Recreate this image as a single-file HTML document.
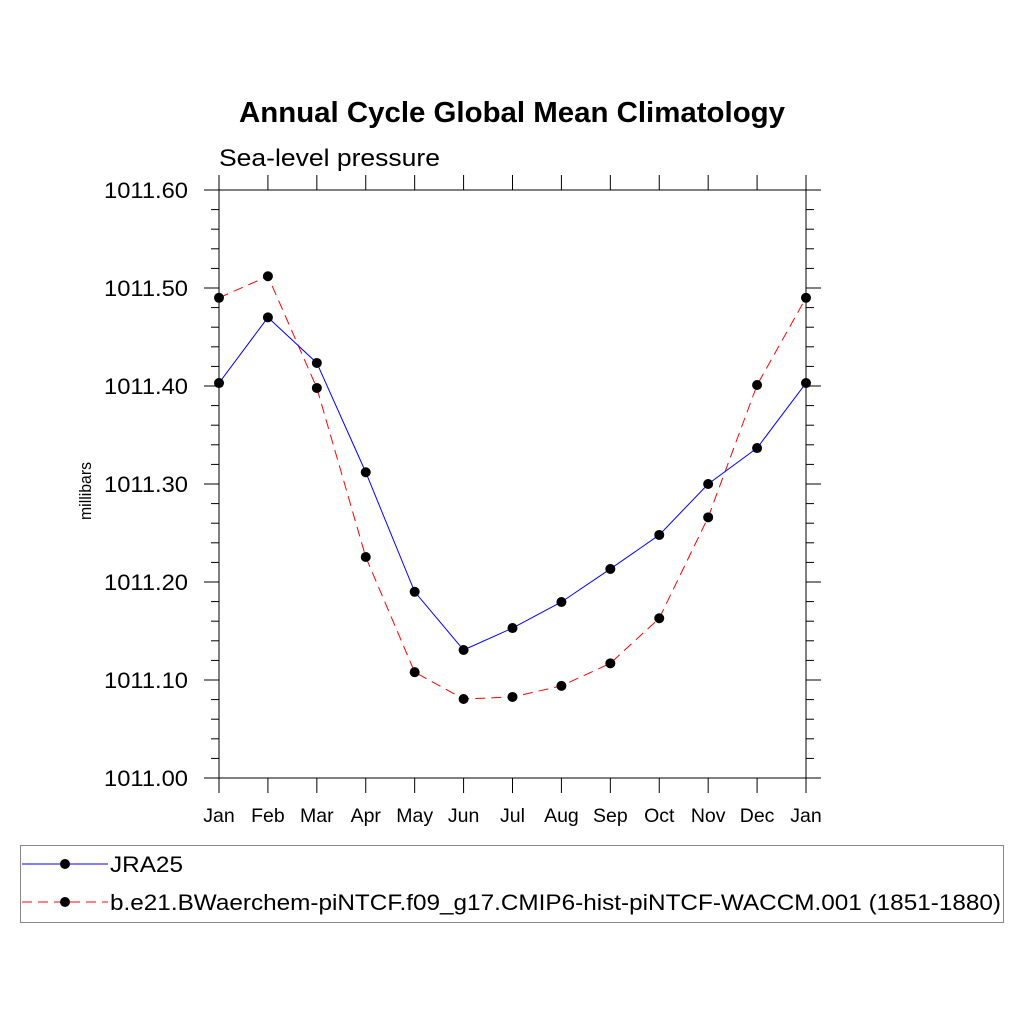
<!DOCTYPE html>
<html><head><meta charset="utf-8"><style>
body{margin:0;background:#fff;}
svg{display:block;font-family:"Liberation Sans",sans-serif;}
</style></head><body>
<svg id="chart" width="1024" height="1024" xmlns="http://www.w3.org/2000/svg">
<text x="239" y="122" font-size="29" font-weight="bold" textLength="546" lengthAdjust="spacingAndGlyphs">Annual Cycle Global Mean Climatology</text>
<text x="219" y="166" font-size="24" textLength="221" lengthAdjust="spacingAndGlyphs">Sea-level pressure</text>
<text transform="translate(91,491) rotate(-90)" text-anchor="middle" font-size="17" textLength="58" lengthAdjust="spacingAndGlyphs">millibars</text>
<g id="axes"></g>
<g id="series"></g>
<g>
<rect x="20.5" y="845.5" width="983" height="77" fill="none" stroke="#888" stroke-width="1"/>
<line x1="22" y1="864" x2="108" y2="864" stroke="#0000ff" stroke-width="1"/>
<circle cx="65" cy="864" r="5" fill="#000"/>
<text x="110" y="872" font-size="22" textLength="73" lengthAdjust="spacingAndGlyphs">JRA25</text>
<line x1="22" y1="902" x2="108" y2="902" stroke="#ff0000" stroke-width="1" stroke-dasharray="10,6"/>
<circle cx="65" cy="902" r="5" fill="#000"/>
<text x="110" y="910" font-size="22" textLength="891" lengthAdjust="spacingAndGlyphs">b.e21.BWaerchem-piNTCF.f09_g17.CMIP6-hist-piNTCF-WACCM.001 (1851-1880)</text>
</g>
</svg>
<script>
const months = ["Jan","Feb","Mar","Apr","May","Jun","Jul","Aug","Sep","Oct","Nov","Dec","Jan"];
const jra25 = [1011.403,1011.470,1011.4235,1011.312,1011.190,1011.1306,1011.153,1011.1796,1011.2133,1011.248,1011.300,1011.3367,1011.403];
const model = [1011.490,1011.512,1011.398,1011.2255,1011.108,1011.0806,1011.0827,1011.094,1011.117,1011.163,1011.266,1011.401,1011.490];
const yTicks = [1011.00,1011.10,1011.20,1011.30,1011.40,1011.50,1011.60];
const yTickLabels = ["1011.00","1011.10","1011.20","1011.30","1011.40","1011.50","1011.60"];

const X0=219,X1=806,Y0=778,Y1=190,YMIN=1011.0,YMAX=1011.6;
const xs=i=>X0+(X1-X0)*i/(months.length-1);
const ys=v=>Y0-(v-YMIN)/(YMAX-YMIN)*(Y0-Y1);
const NS="http://www.w3.org/2000/svg";
function mk(tag,attrs,parent){const e=document.createElementNS(NS,tag);for(const k in attrs)e.setAttribute(k,attrs[k]);parent.appendChild(e);return e;}
const axes=document.getElementById('axes');
const frame=mk('rect',{x:X0,y:Y1,width:X1-X0,height:Y0-Y1,fill:'none',stroke:'#000','stroke-width':1},axes);


yTicks.forEach((v,i)=>{
  const y=ys(v);
  mk('line',{x1:X0-15,y1:y,x2:X0,y2:y,stroke:'#000'},axes);
  mk('line',{x1:X1,y1:y,x2:X1+15,y2:y,stroke:'#000'},axes);
  const t=mk('text',{x:104,y:y+8,'font-size':22,textLength:84,lengthAdjust:'spacingAndGlyphs'},axes);
  t.textContent=yTickLabels[i];
  
  
  if(i<yTicks.length-1){
    for(let m=1;m<5;m++){
      const ym=ys(v+(yTicks[i+1]-v)*m/5);
      mk('line',{x1:X0-8,y1:ym,x2:X0,y2:ym,stroke:'#000'},axes);
      mk('line',{x1:X1,y1:ym,x2:X1+8,y2:ym,stroke:'#000'},axes);
    }
  }
});
months.forEach((m,i)=>{
  const x=xs(i);
  mk('line',{x1:x,y1:Y0,x2:x,y2:Y0+15,stroke:'#000'},axes);
  mk('line',{x1:x,y1:Y1-15,x2:x,y2:Y1,stroke:'#000'},axes);
  const t=mk('text',{x:x,y:Y0+44,'text-anchor':'middle','font-size':19.5},axes);
  t.textContent=m;
  
  
});
const series=document.getElementById('series');
function draw(data,color,dash,name){
  const p=mk('polyline',{points:data.map((v,i)=>xs(i)+','+ys(v)).join(' '),fill:'none',stroke:color,'stroke-width':1,'stroke-dasharray':dash},series);
  
  
  data.forEach((v,i)=>{
    const c=mk('circle',{cx:xs(i),cy:ys(v),r:5,fill:'#000'},series);
    
    
  });
}
draw(model,'#ff0000','10,6','model');
draw(jra25,'#0000ff','none','jra25');
</script>
</body></html>
